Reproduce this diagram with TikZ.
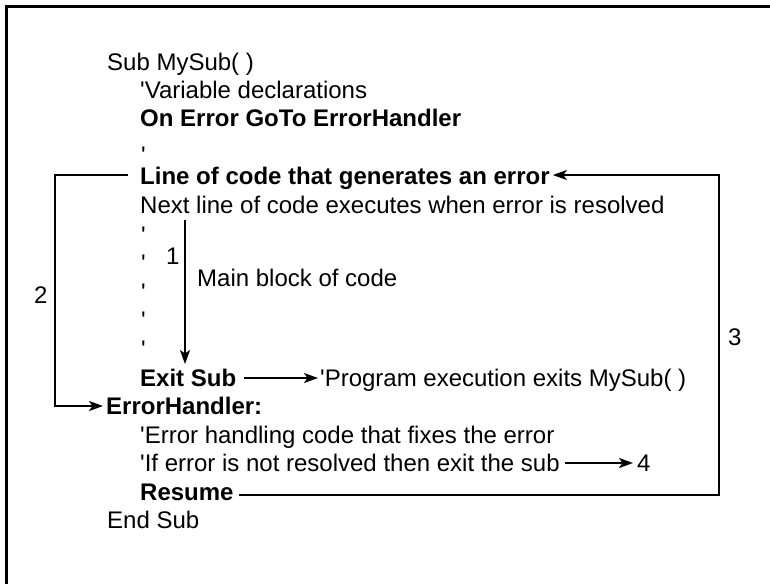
\documentclass[tikz,border=0pt]{standalone}
\usepackage{fontspec}
\setmainfont{Liberation Sans}
\usetikzlibrary{arrows.meta}
\begin{document}
\begin{tikzpicture}[x=1pt,y=-1pt,
  txt/.style={anchor=base west,inner sep=0pt,font=\fontsize{24}{28}\selectfont},
  btxt/.style={txt,font=\fontsize{24}{28}\selectfont\bfseries},
  conn/.style={line width=2pt,draw=black},
  arr/.style={conn,-{Stealth[length=14pt,width=10pt,inset=3.5pt]}}]
\useasboundingbox (0,0) rectangle (770,584);
\fill[white] (0,0) rectangle (770,584);
% frame
\draw[line width=3pt] (6.5,584) -- (6.5,6.5) -- (770,6.5);
% code lines
\node[txt]  (sub)    at (107,70)  {Sub MySub( )};
\node[txt]  (var)    at (140,98)  {\textquotesingle Variable declarations};
\node[btxt] (onerr)  at (140,126) {On Error GoTo ErrorHandler};
\node[txt]  (q0)     at (141,163) {\textquotesingle};
\node[btxt] (line)   at (140,184) {Line of code that generates an error};
\node[txt]  (next)   at (140,213) {Next line of code executes when error is resolved};
\node[txt]  (q1)     at (141,243) {\textquotesingle};
\node[txt]  (q2)     at (141,271) {\textquotesingle};
\node[txt]  (q3)     at (141,300) {\textquotesingle};
\node[txt]  (q4)     at (141,328) {\textquotesingle};
\node[txt]  (q5)     at (141,357) {\textquotesingle};
\node[txt]  (one)    at (166,264) {1};
\node[txt]  (main)   at (197,286) {Main block of code};
\node[btxt] (exit)   at (140,386) {Exit Sub};
\node[txt]  (prog)   at (320,386) {\textquotesingle Program execution exits MySub( )};
\node[btxt] (eh)     at (106,414) {ErrorHandler:};
\node[txt]  (fix)    at (140,443) {\textquotesingle Error handling code that fixes the error};
\node[txt]  (iferr)  at (140,471) {\textquotesingle If error is not resolved then exit the sub};
\node[txt]  (four)   at (637,471) {4};
\node[btxt] (resume) at (140,500) {Resume};
\node[txt]  (endsub) at (107,528) {End Sub};
\node[txt]  (two)    at (34,303)  {2};
\node[txt]  (three)  at (728,345) {3};
% connectors
\coordinate (a1s) at (185,220);
\coordinate (a1e) at (185,364);
\draw[arr] (a1s) -- (a1e);
\coordinate (k2) at (55,406);
\draw[arr] ([shift={(-12pt,9pt)}]line.base west) -| (k2) -- ([shift={(-3pt,8pt)}]eh.base west);
\draw[arr] ([shift={(8pt,8pt)}]exit.base east) -- ([shift={(-2pt,8pt)}]prog.base west);
\draw[arr] ([shift={(5pt,8pt)}]iferr.base east) -- ([shift={(-4pt,8pt)}]four.base west);
\coordinate (k3) at (719,175);
\draw[arr] ([shift={(5pt,5pt)}]resume.base east) -| (k3) -- ([shift={(3pt,9pt)}]line.base east);
\end{tikzpicture}
\end{document}
